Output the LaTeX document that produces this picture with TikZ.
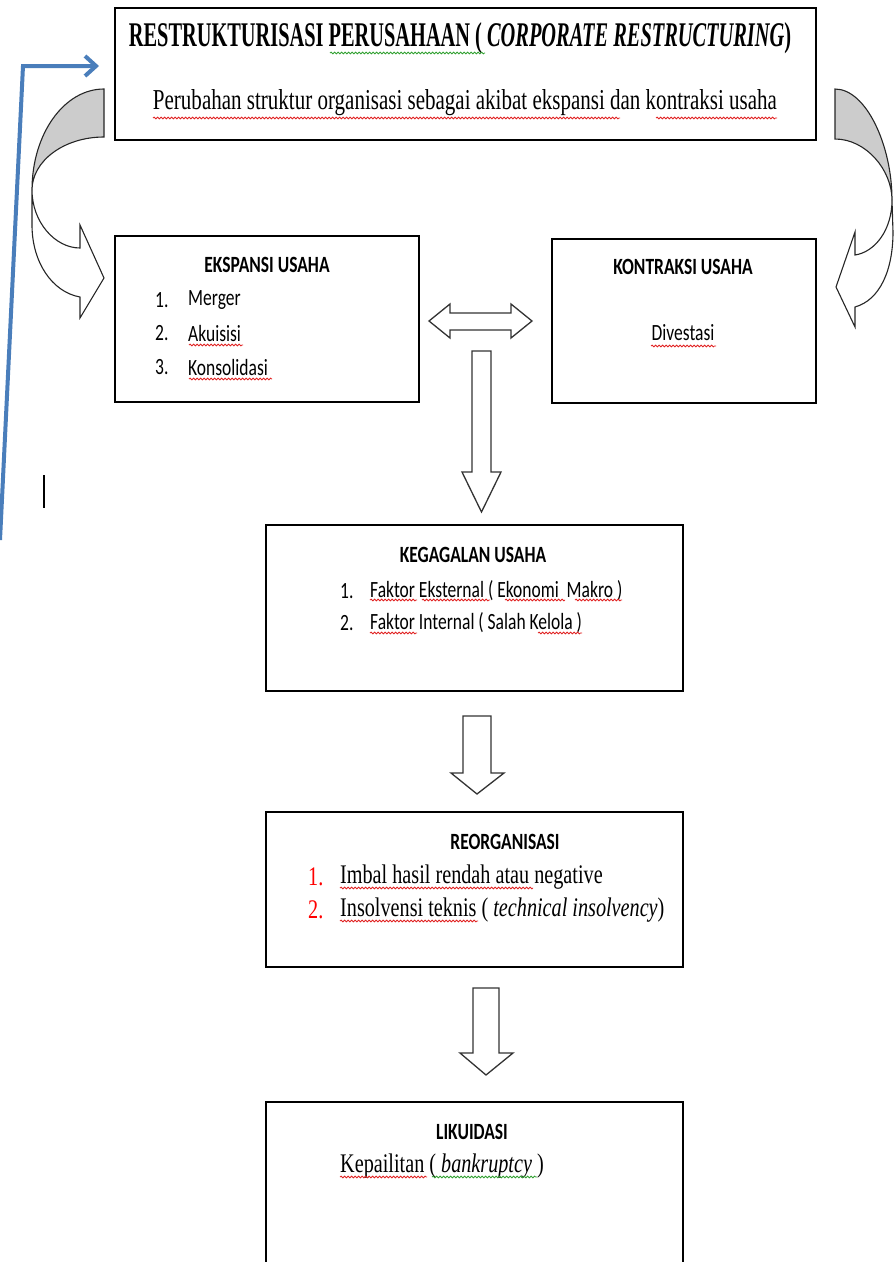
\documentclass[tikz,border=0pt]{standalone}
\usepackage{fontspec}
\setmainfont{Liberation Serif}
\newfontfamily\calfont{Carlito}
\usetikzlibrary{arrows.meta,decorations.pathmorphing}
\newcommand{\vst}[1]{\scalebox{1}[1.33]{#1}}
\definecolor{wblue}{HTML}{4A7EBB}
\definecolor{sqred}{HTML}{E02020}
\definecolor{sqgreen}{HTML}{30A030}
\tikzset{
  box/.style={draw, line width=1.8pt, inner sep=0pt},
  blk/.style={draw=black!80, line width=1.3pt, fill=white, line join=miter},
  curv/.style={draw=black!85, line width=1.1pt},
  hdr/.style={inner sep=0pt, font=\calfont\bfseries\fontsize{17.5}{20}\selectfont},
  sans/.style={inner sep=0pt, font=\calfont\fontsize{17.5}{20}\selectfont},
  serif/.style={inner sep=0pt, font=\fontsize{20.2}{24}\selectfont},
  squig/.style={decorate, decoration={snake, amplitude=0.9pt, segment length=3.5pt}, line width=0.8pt},
  sqr/.style={squig, sqred},
  sqg/.style={squig, sqgreen}
}
\begin{document}
\begin{tikzpicture}[x=1pt,y=-1pt]
\useasboundingbox (0,0) rectangle (895,1262);

% boxes
\node[box, minimum width=701pt, minimum height=132pt] (top) at (465.5,74) {};
\node[box, minimum width=304pt, minimum height=166pt] (eks) at (267,319) {};
\node[box, minimum width=264pt, minimum height=164pt] (kon) at (684,321) {};
\node[box, minimum width=417pt, minimum height=166pt] (keg) at (474.5,608) {};
\node[box, minimum width=417pt, minimum height=155pt] (reo) at (474.5,889.5) {};
\node[box, minimum width=417pt, minimum height=180pt] (lik) at (474.5,1192) {};

% top texts
\node[inner sep=0pt] (title) at (460,38) {\resizebox{662pt}{24pt}{\bfseries RESTRUKTURISASI PERUSAHAAN ( \textit{CORPORATE RESTRUCTURING})}};
\node[inner sep=0pt] (sub) at (465,103) {\resizebox{624pt}{20pt}{Perubahan struktur organisasi sebagai akibat ekspansi dan kontraksi usaha}};
\draw[sqg] (330,53) -- (485,53);
\draw[sqr] (153,118) -- (620,118);
\draw[sqr] (656,118) -- (777,118);

% ekspansi
\node[hdr] (eksh) at (267,265) {\vst{EKSPANSI USAHA}};
\node[sans, anchor=west] (e1n) at (155,300) {\vst{1.}};
\node[sans, anchor=west] (e1) at (188,300) {\vst{Merger}};
\node[sans, anchor=west] (e2n) at (155,333) {\vst{2.}};
\node[sans, anchor=west] (e2) at (188,333) {\vst{Akuisisi}};
\node[sans, anchor=west] (e3n) at (155,367) {\vst{3.}};
\node[sans, anchor=west] (e3) at (188,367) {\vst{Konsolidasi}};
\draw[sqr] (189,345) -- (243,345);
\draw[sqr] (189,379) -- (272,379);

% kontraksi
\node[hdr] (konh) at (683,267) {\vst{KONTRAKSI USAHA}};
\node[sans] (div) at (683,333) {\vst{Divestasi}};
\draw[sqr] (651,346) -- (716,346);

% kegagalan
\node[hdr] (kegh) at (473,555) {\vst{KEGAGALAN USAHA}};
\node[sans, anchor=west] (k1n) at (340,591) {\vst{1.}};
\node[sans, anchor=west] (k1) at (370,591) {\vst{Faktor Eksternal ( Ekonomi\ \ Makro )}};
\node[sans, anchor=west] (k2n) at (340,623) {\vst{2.}};
\node[sans, anchor=west] (k2) at (370,623) {\vst{Faktor Internal ( Salah Kelola )}};
\draw[sqr] (370,600) -- (417,600);
\draw[sqr] (422,600) -- (490,600);
\draw[sqr] (505,600) -- (565,600);
\draw[sqr] (575,600) -- (622,600);
\draw[sqr] (370,633) -- (417,633);
\draw[sqr] (538,633) -- (582,633);

% reorganisasi
\node[hdr] (reoh) at (505,842) {\vst{REORGANISASI}};
\node[serif, anchor=west, text=red] (r1n) at (308,877) {\vst{1.}};
\node[serif, anchor=west] (r1) at (340,877) {\vst{Imbal hasil rendah atau negative}};
\node[serif, anchor=west, text=red] (r2n) at (308,910) {\vst{2.}};
\node[serif, anchor=west] (r2) at (340,910) {\vst{Insolvensi teknis ( \textit{technical insolvency})}};
\draw[sqr] (340,888) -- (533,888);
\draw[sqr] (340,921) -- (478,921);

% likuidasi
\node[hdr] (likh) at (472,1132) {\vst{LIKUIDASI}};
\node[serif, anchor=west] (l1) at (340,1166) {\vst{Kepailitan ( \textit{bankruptcy} )}};
\draw[sqr] (340,1177) -- (427,1177);
\draw[sqg] (432,1177) -- (537,1177);

% double arrow
\draw[blk] (429,321) -- (450,304) -- (450,313) -- (511,313) -- (511,304) -- (532,321)
  -- (511,338) -- (511,330) -- (450,330) -- (450,338) -- cycle;
% down arrows
\draw[blk] (472,351) -- (491,351) -- (491,472) -- (501,472) -- (481.5,512) -- (462,472) -- (472,472) -- cycle;
\draw[blk] (463,716) -- (491,716) -- (491,773) -- (504,773) -- (477,794) -- (451,773) -- (463,773) -- cycle;
\draw[blk] (473,988) -- (499,988) -- (499,1053) -- (513,1053) -- (486,1075) -- (460,1053) -- (473,1053) -- cycle;

% left curved arrow
\draw[curv, fill=white] (32,190) .. controls (32,222) and (55,248) .. (80,248) -- (80,225) -- (104,278)
  -- (80,318) -- (80,297) .. controls (52,292) and (32,262) .. (32,225) -- cycle;
\draw[curv, fill=black!20] (104,89) .. controls (64,89) and (32,134) .. (32,190)
  .. controls (32,161) and (64,137) .. (104,137) -- cycle;

% right curved arrow
\draw[curv, fill=white] (892,200) .. controls (892,230) and (875,252) .. (855,255) -- (855,232) -- (836,287)
  -- (855,327) -- (855,307) .. controls (880,300) and (893,270) .. (893,232) -- cycle;
\draw[curv, fill=black!20] (835,89) .. controls (866,89) and (892,145) .. (892,200)
  .. controls (892,170) and (866,139) .. (835,139) -- cycle;

% blue connector
\coordinate (b0) at (0,540);
\coordinate (b1) at (23,66);
\coordinate (b2) at (99,66);
\draw[wblue, line width=4pt, line join=miter, -{Straight Barb[length=11pt,width=20pt,line width=4pt]}] (b0) -- (b1) -- (b2);

% stray bar
\draw[line width=2.5pt] (44,475) -- (44,508);
\end{tikzpicture}
\end{document}
